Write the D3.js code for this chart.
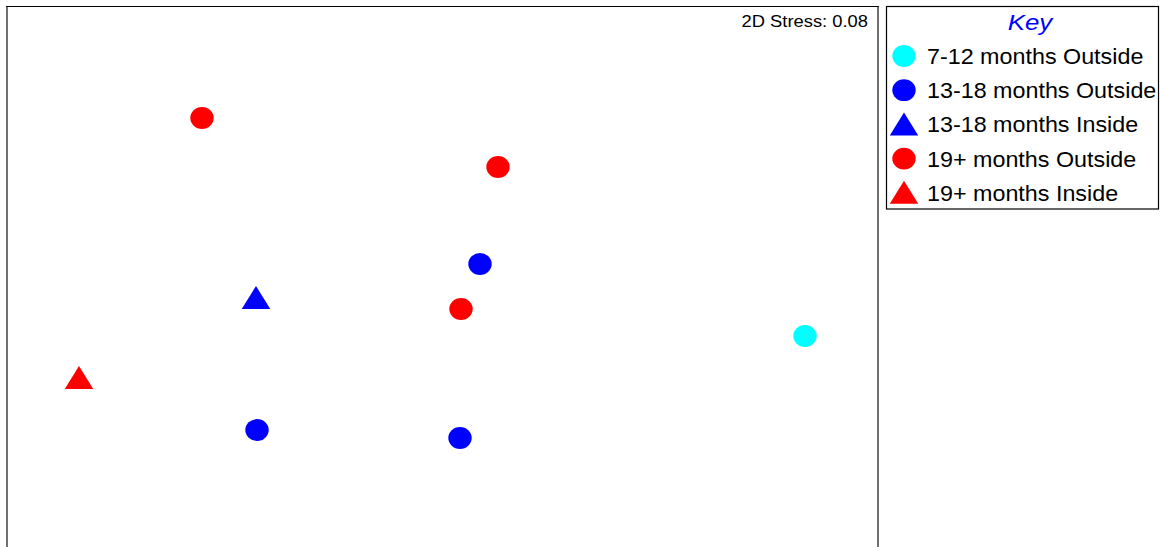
<!DOCTYPE html>
<html><head><meta charset="utf-8">
<script src="https://cdn.jsdelivr.net/npm/d3@7"></script>
<style>body{margin:0;background:#fff;}svg{display:block;font-family:"Liberation Sans",Arial,sans-serif;}</style>
</head><body>
<script>
// MDS ordination coordinates
const samples = ["S1","S2","S3","S4","S5","S6","S7","S8","S9"];
const mdsX = [-1.19, 0.29, 0.20, -0.92, 0.105, 1.825, -1.805, -0.915, 0.10];
const mdsY = [0.785, 0.54, 0.055, -0.115, -0.17, -0.305, -0.515, -0.775, -0.815];
const groupOf = [3, 3, 1, 2, 3, 0, 4, 1, 1];
const groupLabels = ["7-12 months Outside","13-18 months Outside","13-18 months Inside","19+ months Outside","19+ months Inside"];
const groupColors = ["#00ffff","#0000ff","#0000ff","#ff0000","#ff0000"];
const groupShapes = ["circle","circle","triangle","circle","triangle"];
const stressLabel = "2D Stress: 0.08";
const keyTitle = "Key";

const W = 1160, H = 547;
const svg = d3.select("body").append("svg").attr("width", W).attr("height", H);

const x = d3.scaleLinear().domain([-2.2, 2.2]).range([0, 880]);
const y = d3.scaleLinear().domain([-1.4, 1.4]).range([555, -5]);

// horizontally stretched text, anchored at (ax, ay)
function stretchText(g, ax, ay, sx, txt) {
  return g.append("text")
    .attr("transform", `translate(${ax},${ay}) scale(${sx},1)`)
    .text(txt);
}

// plot frame
svg.append("line").attr("x1",7).attr("x2",7).attr("y1",6).attr("y2",H).attr("stroke","#707070").attr("stroke-width",2);
svg.append("line").attr("x1",878).attr("x2",878).attr("y1",6).attr("y2",H).attr("stroke","#707070").attr("stroke-width",2);
svg.append("line").attr("x1",6).attr("x2",879).attr("y1",6.5).attr("y2",6.5).attr("stroke","#000").attr("stroke-width",1.2);

stretchText(svg, 868, 27, 1.08, stressLabel)
  .attr("text-anchor","end").attr("font-size",17).attr("fill","#000");

function drawMarker(g, shape, color, cx, cy) {
  if (shape === "circle") {
    g.append("ellipse").attr("cx",cx).attr("cy",cy).attr("rx",11.7).attr("ry",10.9).attr("fill",color);
  } else {
    const w = 28.5, h = 23;
    g.append("path").attr("d", `M${cx},${cy-h/2-0.5} L${cx+w/2},${cy+h/2-0.5} L${cx-w/2},${cy+h/2-0.5} Z`).attr("fill",color);
  }
}

const pts = svg.append("g");
samples.forEach((s,i) => {
  const gi = groupOf[i];
  drawMarker(pts, groupShapes[gi], groupColors[gi], x(mdsX[i]), y(mdsY[i]));
});

// legend
const lg = svg.append("g");
lg.append("rect").attr("x",886.5).attr("y",6.5).attr("width",272).attr("height",202.5)
  .attr("fill","#fff").attr("stroke","#000").attr("stroke-width",1.2);
stretchText(lg, 1030, 30, 1.15, keyTitle)
  .attr("text-anchor","middle").attr("font-size",22.5).attr("font-style","italic").attr("fill","#0000ff");
groupLabels.forEach((lab,i) => {
  const cy = 56 + i*34.2;
  drawMarker(lg, groupShapes[i], groupColors[i], 904, cy);
  stretchText(lg, 927, cy+8, 1.06, lab).attr("font-size",22).attr("fill","#000");
});
</script>
</body></html>
